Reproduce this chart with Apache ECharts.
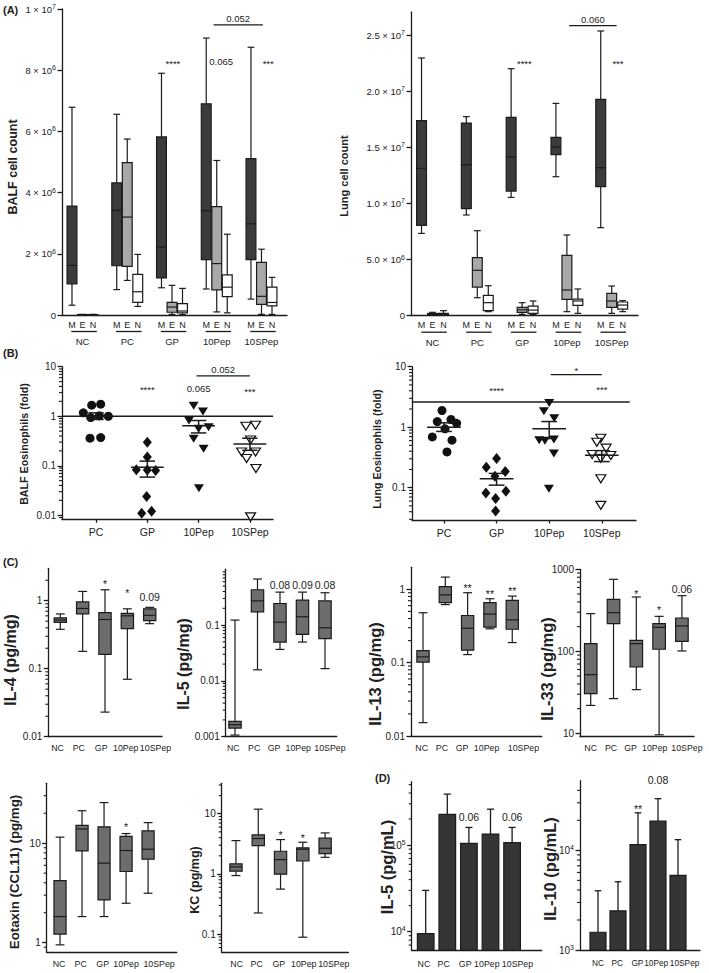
<!DOCTYPE html>
<html><head><meta charset="utf-8">
<script src="https://cdn.jsdelivr.net/npm/echarts@6/dist/echarts.min.js"></script>
<style>html,body{margin:0;padding:0;background:#fff}#c{width:709px;height:973px}</style>
</head><body><div id="c"></div>
<script>
// ---------------- DATA ----------------
const groupsA = ['NC', 'PC', 'GP', '10Pep', '10SPep'];
const cellTypes = ['M', 'E', 'N'];
// box rows: [min, q1, median, q3, max] per group
const balfM = [[0.32e6,1.02e6,1.62e6,3.56e6,6.79e6],[0.83e6,1.61e6,3.42e6,4.32e6,6.56e6],[0.89e6,1.21e6,2.22e6,5.82e6,7.90e6],[0.85e6,1.81e6,3.41e6,6.90e6,9.05e6],[0.52e6,1.81e6,2.98e6,5.11e6,8.75e6]];
const balfE = [[0,0.005e6,0.01e6,0.015e6,0.02e6],[1.13e6,1.59e6,3.20e6,4.98e6,5.75e6],[0.02e6,0.09e6,0.26e6,0.41e6,0.97e6],[0.10e6,0.82e6,1.68e6,3.54e6,5.05e6],[0.02e6,0.35e6,0.61e6,1.72e6,2.15e6]];
const balfN = [[0,0.005e6,0.01e6,0.015e6,0.02e6],[0.28e6,0.41e6,0.76e6,1.33e6,1.98e6],[0.01e6,0.07e6,0.13e6,0.37e6,0.87e6],[0.07e6,0.60e6,0.91e6,1.31e6,2.64e6],[0.02e6,0.30e6,0.41e6,0.91e6,1.23e6]];
const lungM = [[0.733e7,0.805e7,1.312e7,1.737e7,2.295e7],[0.897e7,0.953e7,1.345e7,1.716e7,1.773e7],[1.054e7,1.110e7,1.413e7,1.767e7,2.20e7],[1.238e7,1.434e7,1.502e7,1.588e7,1.891e7],[0.784e7,1.149e7,1.318e7,1.927e7,2.536e7]];
const lungE = [[0.03e6,0.10e6,0.15e6,0.20e6,0.30e6],[1.60e6,2.55e6,4.04e6,5.17e6,7.57e6],[0.12e6,0.30e6,0.53e6,0.74e6,1.16e6],[0.36e6,1.45e6,2.29e6,5.37e6,7.19e6],[0.21e6,0.74e6,1.31e6,1.99e6,2.64e6]];
const lungN = [[0.03e6,0.06e6,0.12e6,0.20e6,0.45e6],[0.36e6,0.45e6,1.16e6,1.81e6,2.67e6],[0.12e6,0.20e6,0.50e6,0.86e6,1.31e6],[0.21e6,0.92e6,1.31e6,1.48e6,2.38e6],[0.36e6,0.59e6,0.95e6,1.22e6,1.34e6]];

// Panel B (fold eosinophils), individual animals; jitter = horizontal spread within a group
const groupsB = ['PC', 'GP', '10Pep', '10SPep'];
const balfEosVals = [
  [1.17,1.67,1.75,0.94,1.02,1.0,0.36,0.37],
  [0.30,0.15,0.083,0.082,0.080,0.024,0.011,0.012],
  [1.62,1.25,0.82,0.56,0.60,0.35,0.22,0.035],
  [0.63,0.66,0.33,0.19,0.14,0.19,0.088,0.0093]];
const balfEosJitter = [
  [-0.247,-0.084,0.091,-0.104,0.065,0.24,-0.117,0.091],
  [0,0,-0.214,0,0.162,-0.013,-0.11,0.084],
  [-0.097,0.084,-0.188,0,0.195,-0.097,0.097,0.006],
  [-0.078,0.11,0.013,-0.162,-0.065,0.11,0.117,0.013]];
const balfEosMean = [1.0, 0.093, 0.64, 0.275];
const balfEosSemLo = [0.86, 0.059, 0.46, 0.205];
const balfEosSemHi = [1.17, 0.124, 0.82, 0.36];
const lungEosVals = [
  [1.886,1.24,1.34,1.16,0.94,0.69,0.61,0.39],
  [0.303,0.218,0.185,0.155,0.082,0.0875,0.066,0.041],
  [2.52,1.84,1.41,0.61,0.595,0.625,0.367,0.096],
  [0.658,0.565,0.45,0.353,0.307,0.34,0.14,0.051]];
const lungEosJitter = [
  [-0.038,-0.127,0.133,0.241,0.019,-0.222,0.152,0.057],
  [0,-0.196,0.165,-0.032,-0.203,0.177,-0.019,-0.019],
  [0,-0.101,0.095,-0.19,-0.082,0.089,0.089,-0.006],
  [-0.019,-0.095,0.082,-0.184,-0.019,0.171,-0.019,-0.019]];
const lungEosMean = [1.0, 0.14, 0.94, 0.345];
const lungEosSemLo = [0.85, 0.11, 0.65, 0.27];
const lungEosSemHi = [1.18, 0.172, 1.24, 0.41];
const balfEosRef = 1.0;
const lungEosRef = 2.62;

// Panel C cytokines [min, q1, median, q3, max]
const groupsC = ['NC', 'PC', 'GP', '10Pep', '10SPep'];
const il4 = [[0.38,0.48,0.52,0.56,0.64],[0.18,0.64,0.77,0.96,1.37],[0.023,0.163,0.53,0.67,1.45],[0.070,0.39,0.60,0.65,0.76],[0.46,0.51,0.61,0.76,0.80]];
const il5 = [[0.00107,0.00143,0.00164,0.00188,0.123],[0.0158,0.173,0.272,0.43,0.67],[0.0367,0.0497,0.113,0.244,0.39],[0.0497,0.068,0.141,0.28,0.39],[0.0166,0.057,0.0896,0.272,0.38]];
const il13 = [[0.0152,0.102,0.12,0.146,0.48],[0.62,0.66,0.84,1.09,1.47],[0.129,0.148,0.295,0.44,0.90],[0.29,0.305,0.46,0.66,0.745],[0.188,0.286,0.384,0.71,0.81]];
const il33 = [[21.9,30.5,51.9,124,288],[26.5,217,296,431,755],[34.1,64.4,124,136,460],[9.6,106,196,217,267],[101,132,204,255,477]];
const eotaxin = [[0.95,1.22,1.83,4.21,11.5],[1.83,8.37,13.9,15.1,21.2],[1.83,2.69,6.29,14.6,25.6],[2.49,5.19,8.44,11.7,12.5],[3.14,6.9,8.7,13.3,16.1]];
const kc = [[0.94,1.11,1.31,1.47,3.58],[0.225,2.96,3.87,4.45,11.9],[0.56,0.99,1.73,2.38,3.72],[0.089,1.64,2.57,2.71,3.36],[1.89,2.18,2.67,3.92,4.8]];

// Panel D (pg/mL) mean and upper error
const il5D = [9500, 2.26e5, 1.05e5, 1.34e5, 1.07e5];
const il5DErr = [3.0e4, 3.88e5, 1.6e5, 2.6e5, 1.6e5];
const il10D = [1507, 2470, 11400, 19700, 5600];
const il10DErr = [3930, 4840, 23800, 33000, 12800];

// annotations (x in group units, y in data units)
const annA1 = [{x:2.02,y:8.3e6,t:'****'},{x:3.1,y:8.3e6,t:'0.065'},{x:4.15,y:8.3e6,t:'***'}];
const brA1 = [{x1:2.93,x2:4.03,y:9.48e6,t:'0.052'}];
const annA2 = [{x:2.05,y:2.27e7,t:'****'},{x:4.14,y:2.27e7,t:'***'}];
const brA2 = [{x1:3.05,x2:4.11,y:2.583e7,t:'0.060'}];
const annB1 = [{x:1,y:3.95,t:'****'},{x:2,y:3.6,t:'0.065'},{x:3,y:3.6,t:'***'}];
const brB1 = [{x1:1.96,x2:3.0,y:6.5,t:'0.052'}];
const annB2 = [{x:1,y:4.5,t:'****'},{x:3,y:4.6,t:'***'}];
const brB2 = [{x1:2.03,x2:3.0,y:7.4,t:'*'}];
const annIL4 = [{x:2,y:1.95,t:'*'},{x:3,y:1.44,t:'*'},{x:4,y:1.15,t:'0.09'}];
const annIL5 = [{x:2,y:0.52,t:'0.08'},{x:3,y:0.52,t:'0.09'},{x:4,y:0.52,t:'0.08'}];
const annIL13 = [{x:2,y:1.15,t:'**'},{x:3,y:0.95,t:'**'},{x:4,y:1.05,t:'**'}];
const annIL33 = [{x:2,y:548,t:'*'},{x:3,y:344,t:'*'},{x:4,y:575,t:'0.06'}];
const annEot = [{x:3,y:15.6,t:'*'}];
const annKC = [{x:2,y:4.97,t:'*'},{x:3,y:4.53,t:'*'}];
const annD5 = [{x:2,y:2.12e5,t:'0.06'},{x:4,y:2.12e5,t:'0.06'}];
const annD10 = [{x:2,y:28200,t:'**'},{x:3,y:50700,t:'0.08'}];

// ---------------- RENDERING ----------------
const FONT = "'Liberation Sans', Arial, Helvetica, sans-serif";
const TXT = '#222222';
const INK = '#1b1b1b';
const AXW = 1.3;
const option = {animation:false, backgroundColor:'#fff', color:[TXT], grid:[], xAxis:[], yAxis:[], series:[], graphic:[]};

function logMinors(min, max) {
  const out = [];
  for (let d = Math.floor(Math.log10(min)); d <= Math.ceil(Math.log10(max)); d++) {
    for (let k = 2; k <= 9; k++) { const v = k * Math.pow(10, d); if (v > min * 1.0001 && v < max * 0.9999) out.push(v); }
  }
  return out;
}
const supRich = (fs) => ({n:{fontSize:fs, fontFamily:FONT, color:TXT}, s:{fontSize:Math.round(fs*0.72), fontFamily:FONT, color:TXT, padding:[0,0,Math.round(fs*0.55),0]}});
const fmtPow10 = v => '{n|10}{s|' + Math.round(Math.log10(v)) + '}';
const fmtPlain = v => String(v);

function hspan(api, x, y, w) {
  return (api.coord([x + w/2, y])[0] - api.coord([x - w/2, y])[0]) / 2;
}
function ln(x1, y1, x2, y2, lw) { return {type:'line', shape:{x1, y1, x2, y2}, style:{stroke:INK, lineWidth:lw || 1.2, fill:null}}; }
function textEl(x, y, t, fs) {
  const star = /^\*+$/.test(t);
  return {type:'text', x:x, y:y + (star ? fs*0.3 : 0), style:{text:t, fill:TXT, fontSize:fs, fontFamily:FONT, align:'center', verticalAlign:'middle', textAlign:'center', textVerticalAlign:'middle'}};
}

function addPanel(p) {
  const gi = option.grid.length;
  option.grid.push({left:p.left, top:p.top, width:p.width, height:p.height, containLabel:false});
  const xi = option.xAxis.length;
  const nearest = v => { let bi = 0; p.xVals.forEach((x,i)=>{ if (Math.abs(x-v) < Math.abs(p.xVals[bi]-v)) bi = i; }); return bi; };
  option.xAxis.push({
    type:'value', gridIndex:gi, min:p.xMin, max:p.xMax,
    axisLine:{show:true, onZero:false, lineStyle:{color:INK, width:AXW}},
    axisTick:{show:!!p.xTicks, customValues:p.xVals, length:3.5, lineStyle:{color:INK, width:AXW}},
    axisLabel:{show:!p.ownLabels, customValues:p.xVals, formatter:v => p.xLabels[nearest(v)], fontSize:p.xFont, color:TXT, margin:p.xMargin, fontFamily:FONT, hideOverlap:false},
    splitLine:{show:false}
  });
  const yi = option.yAxis.length;
  option.yAxis.push({
    type:p.yType, gridIndex:gi, min:p.yMin, max:p.yMax, logBase:10,
    axisLine:{show:true, onZero:false, lineStyle:{color:INK, width:AXW}},
    axisTick:{show:true, customValues:p.yTicks, length:4.5, lineStyle:{color:INK, width:AXW}},
    axisLabel:{show:true, customValues:p.yTicks, formatter:p.yFmt, fontSize:p.yFont, color:TXT, margin:p.yMargin || 6, fontFamily:FONT, rich:supRich(p.yFont), hideOverlap:false},
    splitLine:{show:false}
  });
  const pi = {xi, yi};
  if (p.yType === 'log') minorTickSeries(pi, logMinors(p.yMin, p.yMax), p.xMin);
  if (p.title) {
    option.graphic.push({type:'text', x:p.title.x, y:p.title.y, rotation:Math.PI/2,
      style:{text:p.title.t, font:'bold ' + p.title.fs + 'px ' + FONT, fill:TXT, align:'center', verticalAlign:'middle', textAlign:'center', textVerticalAlign:'middle'}});
  }
  return pi;
}
// minor ticks of a log axis, placed through the y scale
function minorTickSeries(pi, minors, xMin) {
  option.series.push({
    type:'custom', xAxisIndex:pi.xi, yAxisIndex:pi.yi, silent:true, clip:false, z:3, itemStyle:{color:TXT},
    encode:{x:0, y:1}, data:minors.map(v => [xMin, v]),
    renderItem:function(params, api) {
      const p = api.coord([api.value(0), api.value(1)]);
      return ln(p[0] - 3, p[1], p[0], p[1], 1.1);
    }
  });
}
function boxSeries(pi, rows, xs, opt) {
  option.series.push({
    type:'custom', xAxisIndex:pi.xi, yAxisIndex:pi.yi, silent:true, clip:false, z:3, itemStyle:{color:TXT},
    encode:{x:0, y:[1,2,3,4,5]},
    data:rows.map((r,i) => [xs[i]].concat(r)),
    renderItem:function(params, api) {
      const x = api.value(0);
      const v = [1,2,3,4,5].map(k => api.value(k));
      const p = v.map(val => api.coord([x, val]));
      const cx = p[0][0];
      const hw = hspan(api, x, v[2], opt.w), hc = hspan(api, x, v[2], opt.cap);
      const lw = opt.lw || 1.2;
      return {type:'group', children:[
        ln(cx, p[4][1], cx, p[3][1], lw), ln(cx, p[1][1], cx, p[0][1], lw),
        ln(cx-hc, p[4][1], cx+hc, p[4][1], lw), ln(cx-hc, p[0][1], cx+hc, p[0][1], lw),
        {type:'rect', shape:{x:cx-hw, y:p[3][1], width:2*hw, height:Math.max(p[1][1]-p[3][1], 0.8)}, style:{fill:opt.fill, stroke:INK, lineWidth:lw}},
        ln(cx-hw, p[2][1], cx+hw, p[2][1], lw)
      ]};
    }
  });
}
function annSeries(pi, anns, fs) {
  option.series.push({
    type:'custom', xAxisIndex:pi.xi, yAxisIndex:pi.yi, silent:true, clip:false, z:4, itemStyle:{color:TXT},
    encode:{x:0, y:1}, data:anns.map(a => [a.x, a.y]),
    renderItem:function(params, api) {
      const a = anns[params.dataIndex];
      const p = api.coord([api.value(0), api.value(1)]);
      return textEl(p[0], p[1], a.t, fs);
    }
  });
}
// category labels under the x axis (drawn as text through the x scale); shift = label offset in group units
function catLabelSeries(pi, labels, shift, yBase, dy, fs) {
  option.series.push({
    type:'custom', xAxisIndex:pi.xi, yAxisIndex:pi.yi, silent:true, clip:false, z:4, itemStyle:{color:TXT},
    encode:{x:0, y:1}, data:labels.map((l,i) => [i + shift[i], yBase]),
    renderItem:function(params, api) {
      const p = api.coord([api.value(0), api.value(1)]);
      return textEl(p[0], p[1] + dy, labels[params.dataIndex], fs);
    }
  });
}
function bracketSeries(pi, brs, fs) {
  option.series.push({
    type:'custom', xAxisIndex:pi.xi, yAxisIndex:pi.yi, silent:true, clip:false, z:4, itemStyle:{color:TXT},
    encode:{x:[0,1], y:2}, data:brs.map(b => [b.x1, b.x2, b.y]),
    renderItem:function(params, api) {
      const b = brs[params.dataIndex];
      const p1 = api.coord([api.value(0), api.value(2)]);
      const p2 = api.coord([api.value(1), api.value(2)]);
      return {type:'group', children:[ln(p1[0], p1[1], p2[0], p2[1], 1.2), textEl((p1[0]+p2[0])/2, p1[1] - fs*0.7, b.t, fs)]};
    }
  });
}
function meanSemSeries(pi, means, lo, hi) {
  option.series.push({
    type:'custom', xAxisIndex:pi.xi, yAxisIndex:pi.yi, silent:true, clip:false, z:5, itemStyle:{color:TXT},
    encode:{x:0, y:[1,2,3]}, data:means.map((m,i) => [i, m, lo[i], hi[i]]),
    renderItem:function(params, api) {
      const x = api.value(0);
      const pm = api.coord([x, api.value(1)]), pl = api.coord([x, api.value(2)]), ph = api.coord([x, api.value(3)]);
      const mw = hspan(api, x, api.value(1), 0.64), cw = hspan(api, x, api.value(1), 0.3);
      return {type:'group', children:[
        ln(pm[0]-mw, pm[1], pm[0]+mw, pm[1], 1.5), ln(pm[0], pl[1], pm[0], ph[1], 1.5),
        ln(pm[0]-cw, pl[1], pm[0]+cw, pl[1], 1.5), ln(pm[0]-cw, ph[1], pm[0]+cw, ph[1], 1.5)
      ]};
    }
  });
}
function dotSeries(pi, vals, jit, symbols) {
  vals.forEach((arr, g) => {
    const s = symbols[g];
    option.series.push({
      type:'scatter', xAxisIndex:pi.xi, yAxisIndex:pi.yi, silent:true, z:4,
      symbol:s.symbol, symbolRotate:s.rot || 0, symbolSize:s.size,
      itemStyle:{color:s.fill, borderColor:'#111', borderWidth:s.fill === '#ffffff' ? 1.2 : 0, opacity:1},
      data:arr.map((v,i) => [g + jit[g][i], v])
    });
  });
}
function refLineSeries(pi, yVal, x1, x2) {
  option.series.push({
    type:'custom', xAxisIndex:pi.xi, yAxisIndex:pi.yi, silent:true, clip:false, z:3, itemStyle:{color:TXT},
    encode:{x:[0,1], y:2}, data:[[x1, x2, yVal]],
    renderItem:function(params, api) {
      const p1 = api.coord([api.value(0), api.value(2)]), p2 = api.coord([api.value(1), api.value(2)]);
      return ln(p1[0], p1[1], p2[0], p2[1], 1.5);
    }
  });
}
function barSeries(pi, vals, errs, yBase, opt) {
  option.series.push({
    type:'custom', xAxisIndex:pi.xi, yAxisIndex:pi.yi, silent:true, clip:false, z:3, itemStyle:{color:TXT},
    encode:{x:0, y:[1,2]}, data:vals.map((v,i) => [i, v, errs[i]]),
    renderItem:function(params, api) {
      const x = api.value(0);
      const pt = api.coord([x, api.value(1)]), pe = api.coord([x, api.value(2)]), pb = api.coord([x, yBase]);
      const hw = hspan(api, x, api.value(1), opt.w), hc = hspan(api, x, api.value(1), opt.cap);
      return {type:'group', children:[
        ln(pt[0], pt[1], pt[0], pe[1], 1.3), ln(pt[0]-hc, pe[1], pt[0]+hc, pe[1], 1.3),
        {type:'rect', shape:{x:pt[0]-hw, y:pt[1], width:2*hw, height:pb[1]-pt[1]}, style:{fill:opt.fill, stroke:INK, lineWidth:1.2}}
      ]};
    }
  });
}
function groupLabelSeries(pi, groups, yBase, fs) {
  option.series.push({
    type:'custom', xAxisIndex:pi.xi, yAxisIndex:pi.yi, silent:true, clip:false, z:3, itemStyle:{color:TXT},
    encode:{x:0, y:1}, data:groups.map((g,i) => [i, yBase]),
    renderItem:function(params, api) {
      const g = api.value(0);
      const pa = api.coord([g - 0.25, api.value(1)]), pb = api.coord([g + 0.32, api.value(1)]), pc = api.coord([g, api.value(1)]);
      return {type:'group', children:[
        ln(pa[0], pa[1] + 16.5, pb[0], pb[1] + 16.5, 1.3),
        textEl(pc[0], pc[1] + 26.5, groups[params.dataIndex], fs)
      ]};
    }
  });
}

// ---------- Panel A ----------
const fmtA1 = v => { if (v === 0) return '{n|0}'; const e = Math.floor(Math.log10(v) + 1e-9); return '{n|' + Math.round(v / Math.pow(10, e)) + ' × 10}{s|' + e + '}'; };
const fmtA2 = v => { if (v === 0) return '{n|0}'; const e = Math.floor(Math.log10(v) + 1e-9); return '{n|' + (v / Math.pow(10, e)).toFixed(1) + ' × 10}{s|' + e + '}'; };
function panelA(geom, rowsM, rowsE, rowsN, d, yMax, yTicks, yFmt, title, ann, br) {
  const xVals = [], xLabels = [];
  groupsA.forEach((g, gi) => cellTypes.forEach((c, ci) => { xVals.push(gi + (ci - 1) * d); xLabels.push(c); }));
  const pi = addPanel(Object.assign({xVals, xLabels, xFont:9, xMargin:5, yType:'value', yMin:0, yMax, yTicks, yFmt, yFont:9.5, yMargin:6, title}, geom));
  const fills = ['#3b3b3b', '#a8a8a8', '#ffffff'];
  [rowsM, rowsE, rowsN].forEach((rows, ci) => boxSeries(pi, rows, groupsA.map((g, gi) => gi + (ci - 1) * d), {w:0.22, cap:0.15, fill:fills[ci], lw:1.2}));
  groupLabelSeries(pi, groupsA, 0, 9.5);
  annSeries(pi, ann, 9.5);
  bracketSeries(pi, br, 9.5);
}
panelA({left:62, top:9, width:225, height:306, xMin:-0.458, xMax:4.57}, balfM, balfE, balfN, 0.235, 1e7,
  [0, 2e6, 4e6, 6e6, 8e6, 1e7], fmtA1, {x:12.5, y:167, t:'BALF cell count', fs:12.5}, annA1, brA1);
panelA({left:411, top:12, width:227, height:303.7, xMin:-0.48, xMax:4.587}, lungM, lungE, lungN, 0.245, 2.705e7,
  [0, 5e6, 1e7, 1.5e7, 2e7, 2.5e7], fmtA2, {x:344, y:176, t:'Lung cell count', fs:11}, annA2, brA2);

// ---------- Panel B ----------
const symB = [{symbol:'circle', size:9, fill:'#111'}, {symbol:'diamond', size:[9,11], fill:'#111'}, {symbol:'triangle', rot:180, size:[10,8], fill:'#111'}, {symbol:'triangle', rot:180, size:[10,8], fill:'#ffffff'}];
function panelB(geom, yMin, yTicks, title, vals, jit, mean, lo, hi, ref, refEnd, ann, br) {
  const pi = addPanel(Object.assign({xVals:[0,1,2,3], xLabels:groupsB, xFont:10.5, xMargin:7.5, xTicks:true, yType:'log', yMin, yMax:10, yTicks, yFmt:fmtPlain, yFont:10, yMargin:6, title}, geom));
  refLineSeries(pi, ref, geom.xMin, refEnd);
  dotSeries(pi, vals, jit, symB);
  meanSemSeries(pi, mean, lo, hi);
  annSeries(pi, ann, 9.5);
  bracketSeries(pi, br, 9.5);
}
panelB({left:62, top:366.7, width:211, height:152.6, xMin:-0.663, xMax:3.45}, 0.0083, [0.01, 0.1, 1, 10],
  {x:24, y:444, t:'BALF Eosinophils (fold)', fs:10.7}, balfEosVals, balfEosJitter, balfEosMean, balfEosSemLo, balfEosSemHi, balfEosRef, 3.45, annB1, brB1);
panelB({left:412, top:366.7, width:224, height:153.3, xMin:-0.608, xMax:3.65}, 0.0292, [0.1, 1, 10],
  {x:377, y:449, t:'Lung Eosinophils (fold)', fs:10.7}, lungEosVals, lungEosJitter, lungEosMean, lungEosSemLo, lungEosSemHi, lungEosRef, 3.53, annB2, brB2);

// ---------- Panel C ----------
function panelC(geom, yMin, yMax, yTicks, title, rows, ann, xFont, shift) {
  const pi = addPanel(Object.assign({xVals:[0,1,2,3,4], xLabels:groupsC, ownLabels:true, xFont:xFont, xMargin:6.5, yType:'log', yMin, yMax, yTicks, yFmt:fmtPlain, yFont:10, yMargin:6, title}, geom));
  boxSeries(pi, rows, [0,1,2,3,4], {w:0.55, cap:0.4, fill:'#6d6d6d', lw:1.2});
  catLabelSeries(pi, groupsC, shift, yMin, 11.5, xFont);
  annSeries(pi, ann, 10.5);
}
panelC({left:48.3, top:568.3, width:113.7, height:168.4, xMin:-0.537, xMax:4.55}, 0.01, 3, [0.01, 0.1, 1], {x:10.5, y:660, t:'IL-4 (pg/mg)', fs:16}, il4, annIL4, 8.8, [-0.125,-0.175,-0.17,-0.07,0.26]);
panelC({left:225.7, top:569.3, width:111, height:167.4, xMin:-0.413, xMax:4.52}, 0.001, 1, [0.001, 0.01, 0.1], {x:183, y:664, t:'IL-5 (pg/mg)', fs:16}, il5, annIL5, 8.8, [-0.075,-0.147,-0.267,-0.19,0.22]);
panelC({left:411, top:567.3, width:130.7, height:168.7, xMin:-0.538, xMax:5.32}, 0.01, 2, [0.01, 0.1, 1], {x:375, y:674, t:'IL-13 (pg/mg)', fs:16.5}, il13, annIL13, 8.8, [-0.06,-0.15,-0.25,-0.15,0.5]);
panelC({left:580, top:569.3, width:114, height:167.4, xMin:-0.47, xMax:4.53}, 9.1, 1000, [10, 100, 1000], {x:547, y:669, t:'IL-33 (pg/mg)', fs:16.5}, il33, annIL33, 8.8, [0,-0.11,-0.25,-0.19,0.22]);
panelC({left:46.7, top:783.3, width:130, height:169, xMin:-0.605, xMax:5.3}, 0.8, 40, [1, 10], {x:14, y:872, t:'Eotaxin (CCL11) (pg/mg)', fs:13.3}, eotaxin, annEot, 8.8, [-0.045,-0.06,-0.06,0,0.5]);
panelC({left:221.7, top:783.3, width:126.6, height:169, xMin:-0.64, xMax:5.04}, 0.05, 32, [0.1, 1, 10], {x:195, y:880, t:'KC (pg/mg)', fs:12.5}, kc, annKC, 8.8, [0.03,-0.07,-0.08,0.04,0.39]);

// ---------- Panel D ----------
function panelD(geom, yMin, yMax, yTicks, title, vals, errs, ann, w, xFont, shift) {
  const pi = addPanel(Object.assign({xVals:[0,1,2,3,4], xLabels:groupsC, ownLabels:true, xFont:xFont, xMargin:8.5, yType:'log', yMin, yMax, yTicks, yFmt:fmtPow10, yFont:10, yMargin:6, title}, geom));
  barSeries(pi, vals, errs, yMin, {w:w, cap:0.33, fill:'#353535'});
  catLabelSeries(pi, groupsC, shift, yMin, 13.3, xFont);
  annSeries(pi, ann, 10.5);
}
panelD({left:411.7, top:781.7, width:130, height:168.6, xMin:-0.648, xMax:5.37}, 6100, 5.4e5, [1e4, 1e5], {x:387, y:867, t:'IL-5 (pg/mL)', fs:16.5}, il5D, il5DErr, annD5, 0.77, 8.8, [-0.08,-0.17,-0.17,-0.17,0.25]);
panelD({left:580, top:780.7, width:120, height:169.3, xMin:-0.9, xMax:5.1}, 1000, 5e4, [1e3, 1e4], {x:550, y:869, t:'IL-10 (pg/mL)', fs:16.5}, il10D, il10DErr, annD10, 0.8, 8.3, [0,-0.04,-0.03,-0.09,0.33]);

// panel letters
[['(A)', 3, 4], ['(B)', 3, 347], ['(C)', 3, 556], ['(D)', 375, 772]].forEach(([t, x, y]) => {
  option.graphic.push({type:'text', x:x, y:y, style:{text:t, font:'bold 11px ' + FONT, fill:TXT}});
});

const chart = echarts.init(document.getElementById('c'), null, {renderer:'svg'});
chart.setOption(option);
</script></body></html>
